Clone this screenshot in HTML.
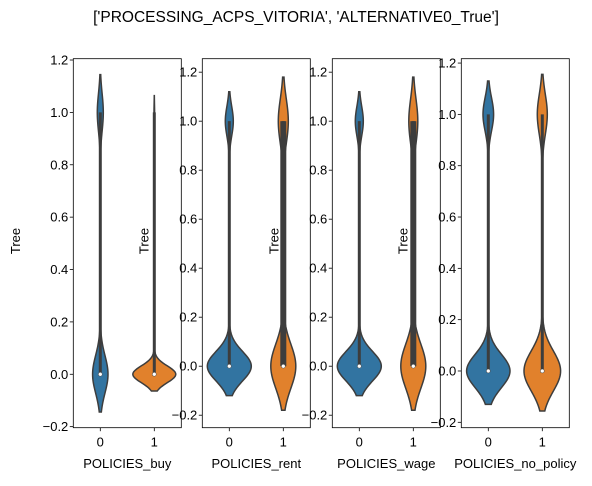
<!DOCTYPE html>
<html><head><meta charset="utf-8"><style>
body{margin:0;background:#fff}
svg text{font-family:"Liberation Sans","DejaVu Sans",sans-serif;fill:#000}
</style></head><body>
<svg id="c" width="592" height="481" xmlns="http://www.w3.org/2000/svg">
<text x="296" y="22" font-size="15.5" text-anchor="middle">['PROCESSING_ACPS_VITORIA', 'ALTERNATIVE0_True']</text>
</svg>
<script>
const panelNames = ["POLICIES_buy","POLICIES_rent","POLICIES_wage","POLICIES_no_policy"];
const categories = ["0","1"];
const yTicks = [-0.2,0,0.2,0.4,0.6,0.8,1.0,1.2];
const yMin = [-0.204,-0.251,-0.251,-0.221];
const yMax = [1.205,1.255,1.255,1.217];
// per panel, per category
const bandwidth = [[0.072,0.032],[0.06,0.09],[0.06,0.09],[0.065,0.078]];
const lowerDensity = [[7.7,21.5],[22,12.5],[22,12.5],[21.7,18.3]];
const upperDensity = [[3,0.3],[4,5],[4,4.5],[5.3,5]];
const q1Vals = [[0,0],[0,0],[0,0],[0,0]];
const q3Vals = [[0,0],[0,1],[0,1],[0,0]];
const medians = [[0,0],[0,0],[0,0],[0,0]];
const whiskLo = [[0,0],[0,0],[0,0],[0,0]];
const whiskHi = [[1,1],[1,1],[1,1],[1,1]];
const colors = ["#3274a1","#e1812c"];

const svg = document.getElementById('c');
const NS = "http://www.w3.org/2000/svg";
const axLeft = [73.3,202.3,332.3,461.3];
const axW = 108, axTop = 58.7, axBot = 427.7;
function mk(tag, attrs){const e=document.createElementNS(NS,tag);for(const k in attrs)e.setAttribute(k,attrs[k]);svg.appendChild(e);return e;}

for(let p=0;p<4;p++){
  const L=axLeft[p];
  const yS=v=>axBot-(v-yMin[p])/(yMax[p]-yMin[p])*(axBot-axTop);
  const xS=c=>L+(c+0.5)/2*axW;
  for(let c=0;c<2;c++){
    const bw=bandwidth[p][c], A0=lowerDensity[p][c], A1=upperDensity[p][c];
    const lo=-2*bw, hi=1+2*bw, cx=xS(c);
    const pts=[], N=200;
    for(let i=0;i<=N;i++){const y=lo+(hi-lo)*i/N;
      const w=A0*Math.exp(-y*y/(2*bw*bw))+A1*Math.exp(-(y-1)*(y-1)/(2*bw*bw));
      pts.push([y,w]);}
    let d="";
    pts.forEach((q,i)=>{d+=(i?"L":"M")+(cx+q[1]).toFixed(2)+","+yS(q[0]).toFixed(2);});
    for(let i=pts.length-1;i>=0;i--){d+="L"+(cx-pts[i][1]).toFixed(2)+","+yS(pts[i][0]).toFixed(2);}
    d+="Z";
    const v=mk('path',{d:d,fill:colors[c],stroke:"#3d3d3d","stroke-width":1.5});
    
    
    const wl=mk('line',{x1:cx,x2:cx,y1:yS(whiskLo[p][c]),y2:yS(whiskHi[p][c]),stroke:"#3d3d3d","stroke-width":3});
    
    
    if(q3Vals[p][c]>q1Vals[p][c]){
      const b=mk('rect',{x:cx-3,y:yS(q3Vals[p][c]),width:6,height:yS(q1Vals[p][c])-yS(q3Vals[p][c]),fill:"#3d3d3d"});
      
      
    }
    const m=mk('circle',{cx:cx,cy:yS(medians[p][c]),r:2,fill:"#fff",stroke:"#3d3d3d","stroke-width":0.5});
    
    
    mk('line',{x1:cx,x2:cx,y1:axBot,y2:axBot+3.5,stroke:"#000","stroke-width":0.8});
    const t=mk('text',{x:cx,y:axBot+19,"font-size":13,"text-anchor":"middle"});
    t.textContent=categories[c];
    
    
  }
  yTicks.forEach(v=>{
    const y=yS(v);
    mk('line',{x1:L-3.5,x2:L,y1:y,y2:y,stroke:"#000","stroke-width":0.8});
    const t=mk('text',{x:L-5,y:y+4.5,"font-size":13,"text-anchor":"end"});
    t.textContent=(v<0?"\u2212":"")+Math.abs(v).toFixed(1);
    
    
  });
  const fr=mk('rect',{x:L,y:axTop,width:axW,height:axBot-axTop,fill:"none",stroke:"#000","stroke-width":0.8});
  
  
  const xl=mk('text',{x:L+axW/2,y:468,"font-size":13,"text-anchor":"middle"});
  xl.textContent=panelNames[p];
  
  
  const lx=p==0?20:L-54;
  const yl=mk('text',{x:lx,y:241,"font-size":13,"text-anchor":"middle",transform:"rotate(-90 "+lx+" 241)"});
  yl.textContent="Tree";
  
  
}
</script>
</body></html>
